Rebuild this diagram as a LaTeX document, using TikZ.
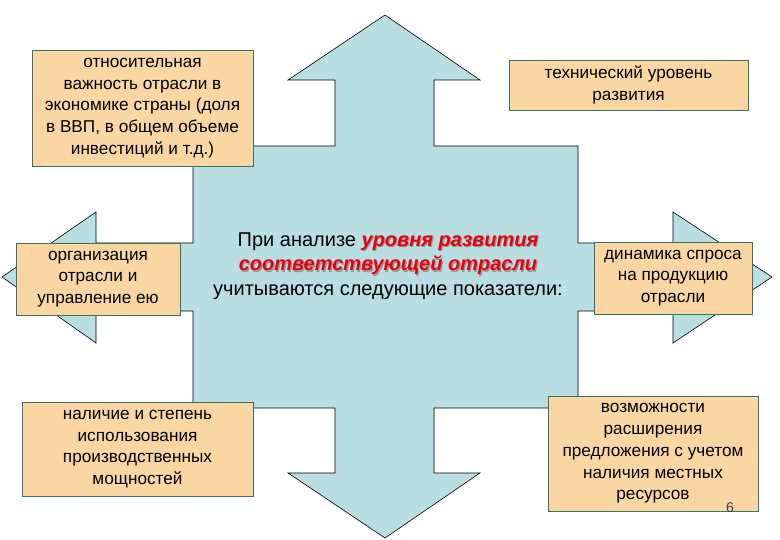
\documentclass[tikz,border=0pt]{standalone}
\usepackage{fontspec}
\setmainfont{Liberation Sans}
\usepackage{tikz}
\definecolor{blueish}{RGB}{185, 222, 226}
\definecolor{orangish}{RGB}{250, 215, 162}
\definecolor{tealish}{RGB}{55, 115, 100}
\definecolor{redish}{RGB}{232, 0, 14}
\newcommand{\redsh}[1]{\makebox[0pt][l]{\kern1.2pt\raisebox{-1.2pt}{\color{black!40}\bfseries\itshape #1}}{\color{redish}\bfseries\itshape #1}}
\tikzset{
  ind_box/.style = {draw=tealish, fill=orangish, align=center, inner sep=0pt,
    font=\fontsize{17.2}{21.8}\selectfont},% box with one indicator
  main_txt/.style = {align=center, inner sep=0pt,
    font=\fontsize{20}{24.5}\selectfont},% text in the centre
}
\begin{document}
\begin{tikzpicture}[x=1pt, y=-1pt]
\useasboundingbox (0,0) rectangle (780,540);
% cross with four arrows
\draw [fill=blueish, line width=0.6pt]
  (385,15) -- (480,80) -- (434,80) -- (434,146) -- (578,146) -- (578,243)
  -- (673,243) -- (673,212) -- (772,277) -- (673,343) -- (673,311)
  -- (578,311) -- (578,408) -- (434,408) -- (434,473) -- (480,473)
  -- (385,538) -- (288,473) -- (335,473) -- (335,408) -- (193,408)
  -- (193,311) -- (96,311) -- (96,343) -- (2,277) -- (96,212) -- (96,243)
  -- (193,243) -- (193,146) -- (335,146) -- (335,80) -- (288,80) -- cycle;
\node [main_txt] (center) at (388,266)
  {При анализе \redsh{уровня развития}\\
   \redsh{соответствующей отрасли}\\
   учитываются следующие показатели:};
\node [ind_box, minimum width=221, minimum height=116] (importance) at (142.5,108)
  {относительная\\ важность отрасли в\\ экономике страны (доля\\ в ВВП, в общем объеме\\ инвестиций и т.д.)};
\node [ind_box, minimum width=239, minimum height=50] (techlevel) at (628.5,85)
  {технический уровень\\ развития};
\node [ind_box, minimum width=164, minimum height=72] (organiz) at (98,279)
  {организация\\ отрасли и\\ управление ею};
\node [ind_box, minimum width=158, minimum height=72] (demand) at (673,278)
  {динамика спроса\\ на продукцию\\ отрасли};
\node [ind_box, minimum width=231, minimum height=94] (capacity) at (137.5,449)
  {наличие и степень\\ использования\\ производственных\\ мощностей};
\node [ind_box, minimum width=210, minimum height=115] (supply) at (653,453.5)
  {возможности\\ расширения\\ предложения с учетом\\ наличия местных\\ ресурсов};
\node [font=\fontsize{14}{14}\selectfont\rmfamily, text=black!75] (slide_no) at (730,508) {6};
\end{tikzpicture}
\end{document}
